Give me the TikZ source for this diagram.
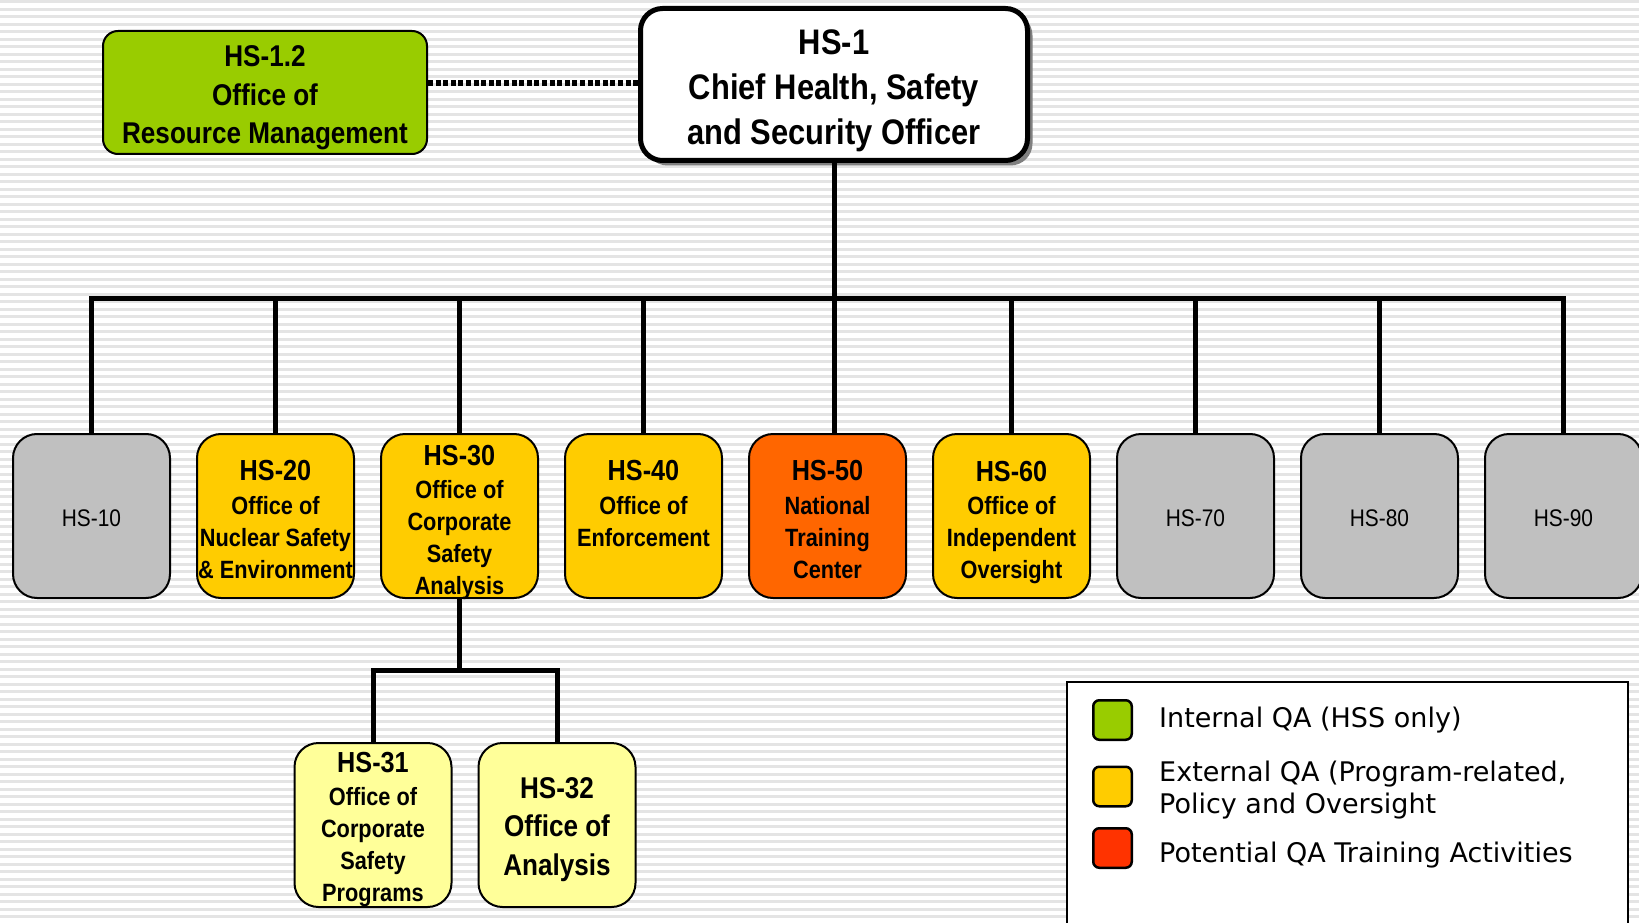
\documentclass[tikz,border=0pt]{standalone}
\usepackage{fontspec}
\usetikzlibrary{shadows}
\newfontfamily\nar[FakeStretch=0.87]{Liberation Sans}
\newfontfamily\verd{DejaVu Sans}
\definecolor{cgreen}{HTML}{99CC00}
\definecolor{cyellow}{HTML}{FFCC00}
\definecolor{corange}{HTML}{FF6600}
\definecolor{clight}{HTML}{FFFF99}
\definecolor{cgray}{HTML}{C0C0C0}
\definecolor{cred}{HTML}{FF3300}
\definecolor{cshadow}{HTML}{808080}
\definecolor{cstripe}{HTML}{E4E4E4}
\newcommand\boxtitle[1]{{\fontsize{29}{35}\selectfont #1}}
\newcommand\lift[1]{\rule{0pt}{#1}}
\tikzset{
  stripe/.style={draw=cstripe, line width=2.6pt},
  conn/.style={draw=black, line width=5pt, line join=miter},
  dotconn/.style={draw=black, line width=6pt, dash pattern=on 5pt off 2.6pt},
  orgbox/.style={draw=black, line width=2pt, rounded corners=24pt,
    minimum width=157pt, minimum height=164pt, inner sep=0pt, align=center,
    font={\nar\bfseries\fontsize{25}{32}\selectfont}},
  vacant/.style={orgbox, fill=cgray, font={\nar\fontsize{24}{30}\selectfont}},
  swatch/.style={draw=black, line width=2.5pt, rounded corners=6pt,
    minimum width=38.5pt, minimum height=39.5pt, inner sep=0pt},
  legtext/.style={anchor=base west, inner sep=0pt, font={\verd\fontsize{27}{32}\selectfont}}
}
\begin{document}
\begin{tikzpicture}[x=1pt,y=-1pt]
\useasboundingbox (0,0) rectangle (1639,923);
\begin{scope}
\clip (0,0) rectangle (1639,923);
\fill[white] (0,0) rectangle (1639,923);
\foreach \k in {0,...,123} {
  \draw[stripe] (0,{1.75+7.5*\k}) -- (1639,{1.75+7.5*\k});
}

% top nodes
\node[draw=black, line width=2pt, fill=cgreen, rounded corners=15pt,
  minimum width=324pt, minimum height=123pt, inner sep=0pt, align=center,
  font={\nar\bfseries\fontsize{30}{38.5}\selectfont}]
  (hs12) at (265,92.5) {\lift{32pt}HS-1.2\\Office of\\Resource Management};
\node[draw=black, line width=5pt, fill=white, rounded corners=22pt,
  minimum width=387pt, minimum height=152pt, inner sep=0pt, align=center,
  drop shadow={shadow xshift=5pt, shadow yshift=-5pt, fill=cshadow, opacity=1},
  font={\nar\bfseries\fontsize{35.5}{45}\selectfont}]
  (hs1) at (834,84.5) {\lift{38pt}HS-1\\Chief Health, Safety\\and Security Officer};

% row
\node[vacant] (hs10) at (91.5,516) {\lift{21.5pt}HS-10};
\node[orgbox, fill=cyellow] (hs20) at (275.5,516) {\boxtitle{\lift{27pt}HS-20}\\[1.5pt]Office of\\Nuclear Safety\\\& Environment};
\node[orgbox, fill=cyellow] (hs30) at (459.5,516) {\boxtitle{\lift{27.5pt}HS-30}\\[1.5pt]Office of\\Corporate\\Safety\\\smash{Analysis}};
\node[orgbox, fill=cyellow] (hs40) at (643.5,516) {\boxtitle{\lift{27pt}HS-40}\\[1.5pt]Office of\\Enforcement\\\mbox{}};
\node[orgbox, fill=corange] (hs50) at (827.5,516) {\boxtitle{\lift{27pt}HS-50}\\[1.5pt]National\\Training\\Center};
\node[orgbox, fill=cyellow] (hs60) at (1011.5,516) {\boxtitle{\lift{33pt}HS-60}\\[1.5pt]Office of\\Independent\\Oversight};
\node[vacant] (hs70) at (1195.5,516) {\lift{21.5pt}HS-70};
\node[vacant] (hs80) at (1379.5,516) {\lift{21.5pt}HS-80};
\node[vacant] (hs90) at (1563.5,516) {\lift{21.5pt}HS-90};

% sub row
\node[orgbox, fill=clight] (hs31) at (373,825) {\boxtitle{\lift{29pt}HS-31}\\[1.5pt]Office of\\Corporate\\Safety\\Programs};
\node[orgbox, fill=clight, font={\nar\bfseries\fontsize{30}{38.5}\selectfont}] (hs32) at (557,825) {\lift{30pt}HS-32\\Office of\\Analysis};

% connectors
\draw[dotconn] ([yshift=9.5pt]hs12.east) -- ([yshift=9.5pt]hs12.east -| hs1.west);
\coordinate (bus) at (834,298);
\draw[conn] (hs1.south) -- (hs1.south |- hs50.north);
\foreach \n in {10,20,30,40,60,70,80,90} {
  \draw[conn] (bus) -| (hs\n.north);
}
\coordinate (sub) at (459.5,670);
\draw[conn] (hs30.south) -- (sub);
\draw[conn] (sub) -| (hs31.north);
\draw[conn] (sub) -| (hs32.north);

% legend
\draw[draw=black, line width=2.5pt, fill=white] (1067,930) -- (1067,682) -- (1628,682) -- (1628,930);
\node[swatch, fill=cgreen] (sw1) at (1112.5,720) {};
\node[swatch, fill=cyellow] (sw2) at (1112.5,786.5) {};
\node[swatch, fill=cred] (sw3) at (1112.5,848) {};
\node[legtext] (lt1) at (1159,727) {Internal QA (HSS only)};
\node[legtext] (lt2) at (1159,781) {External QA (Program-related,};
\node[legtext] (lt3) at (1159,813) {Policy and Oversight};
\node[legtext] (lt4) at (1159,862) {Potential QA Training Activities};
\end{scope}
\end{tikzpicture}
\end{document}
